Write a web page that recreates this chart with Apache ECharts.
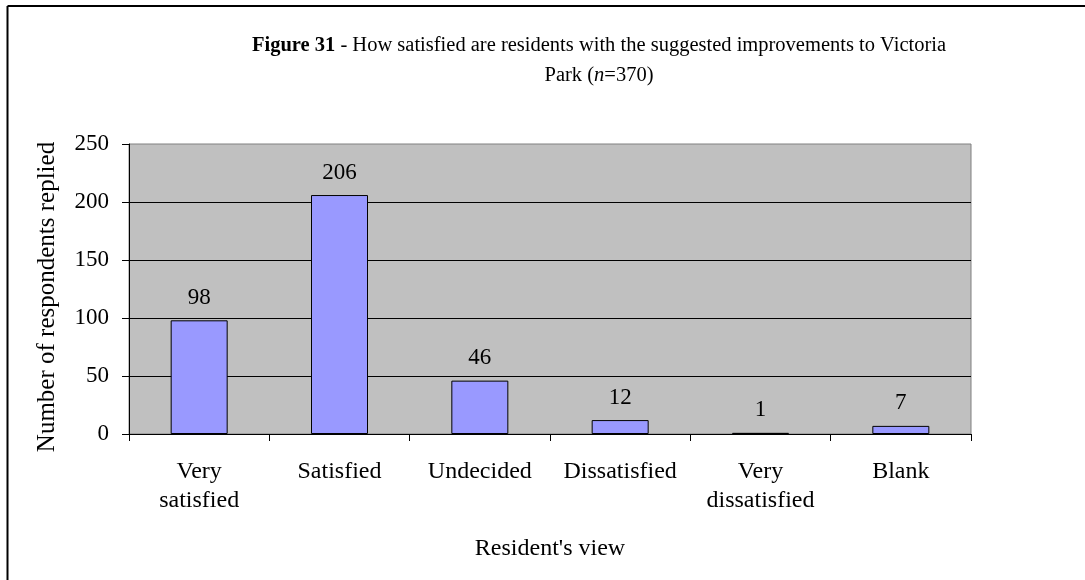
<!DOCTYPE html>
<html>
<head>
<meta charset="utf-8">
<script src="https://cdn.jsdelivr.net/npm/echarts@6/dist/echarts.min.js"></script>
<style>
  html, body { margin: 0; padding: 0; background: #ffffff; }
  #chart { width: 1085px; height: 580px; }
</style>
</head>
<body>
<div id="chart"></div>
<script>
// Survey responses: satisfaction with the proposed Victoria Park improvements
const categories = ['Very satisfied', 'Satisfied', 'Undecided', 'Dissatisfied', 'Very dissatisfied', 'Blank'];
const respondents = [98, 206, 46, 12, 1, 7];
const yTicks = [0, 50, 100, 150, 200, 250];

const serif = "'Liberation Serif', 'Times New Roman', serif";

const chart = echarts.init(document.getElementById('chart'), null, { renderer: 'canvas' });

chart.setOption({
  animation: false,
  backgroundColor: '#ffffff',
  textStyle: { fontFamily: serif, color: '#000' },
  title: {
    left: 599,
    top: 31,
    textAlign: 'center',
    padding: 0,
    text: '{b|Figure 31}{r| - How satisfied are residents with the suggested improvements to Victoria}\n{r|Park (}{i|n}{r|=370)}',
    textStyle: {
      fontWeight: 'normal',
      rich: {
        b: { fontFamily: serif, fontSize: 20.5, fontWeight: 'bold', color: '#000', lineHeight: 30 },
        r: { fontFamily: serif, fontSize: 20.5, fontWeight: 'normal', color: '#000', lineHeight: 30 },
        i: { fontFamily: serif, fontSize: 20.5, fontWeight: 'normal', fontStyle: 'italic', color: '#000', lineHeight: 30 }
      }
    }
  },
  graphic: [
    // frame around the figure (top and left edges)
    { type: 'line', z: 100, shape: { x1: 7.5, y1: 6, x2: 1085, y2: 6 }, style: { stroke: '#000', lineWidth: 2 } },
    { type: 'line', z: 100, shape: { x1: 7.5, y1: 6, x2: 7.5, y2: 580 }, style: { stroke: '#000', lineWidth: 2 } }
  ],
  grid: {
    left: 129,
    top: 144,
    width: 842,
    height: 290,
    show: true,
    backgroundColor: '#C0C0C0',
    borderColor: '#808080',
    borderWidth: 1
  },
  xAxis: {
    type: 'category',
    data: categories,
    name: "Resident's view",
    nameLocation: 'middle',
    nameGap: 103,
    nameTextStyle: { fontFamily: serif, fontSize: 24, color: '#000' },
    axisLine: { show: true, lineStyle: { color: '#000', width: 1 } },
    axisTick: { show: true, length: 7, alignWithLabel: false, lineStyle: { color: '#000' } },
    axisLabel: {
      interval: 0,
      margin: 23,
      fontFamily: serif,
      fontSize: 24,
      lineHeight: 29,
      color: '#000',
      formatter: function (v) { return v.replace(/^Very /, 'Very\n'); }
    },
    splitLine: { show: false }
  },
  yAxis: {
    type: 'value',
    min: yTicks[0],
    max: yTicks[yTicks.length - 1],
    interval: yTicks[1] - yTicks[0],
    name: 'Number of respondents replied',
    nameLocation: 'middle',
    nameRotate: 90,
    nameGap: 69,
    nameTextStyle: { fontFamily: serif, fontSize: 25, color: '#000', padding: [0, 16, 0, 0] },
    axisLine: { show: true, lineStyle: { color: '#000', width: 1 } },
    axisTick: { show: true, length: 7, lineStyle: { color: '#000' } },
    axisLabel: { margin: 20, fontFamily: serif, fontSize: 23, color: '#000' },
    splitLine: { show: true, showMinLine: false, showMaxLine: false, lineStyle: { color: '#000', width: 1 } }
  },
  series: [{
    type: 'bar',
    data: respondents,
    barWidth: 57,
    itemStyle: { color: '#9999FF', borderColor: '#000', borderWidth: 1 },
    label: {
      show: true,
      position: 'top',
      distance: 11,
      fontFamily: serif,
      fontSize: 23,
      color: '#000'
    }
  }]
});
</script>
</body>
</html>
